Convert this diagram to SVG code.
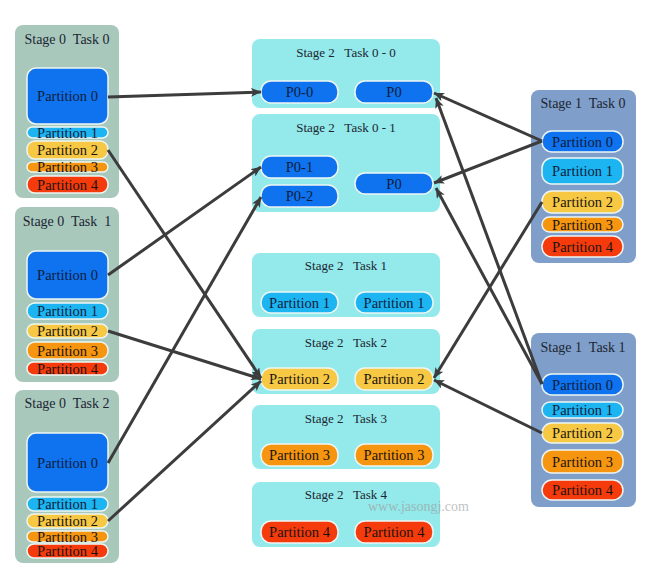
<svg xmlns="http://www.w3.org/2000/svg" width="650" height="574" viewBox="0 0 650 574" font-family="'Liberation Serif', 'Times New Roman', serif">
<defs>
<style>
.s0{fill:#a9c8bc}
.s1{fill:#7f9ec9}
.s2{fill:#94e9ea}
.p{stroke:#eef6f4;stroke-width:1.5}
.c0{fill:#0f72ee}
.c1{fill:#1cb5f2}
.c2{fill:#f6c843}
.c3{fill:#f6950f}
.c4{fill:#f53b0c}
text{font-family:"Liberation Serif","Times New Roman",serif;text-anchor:middle}
.t{font-size:14px;fill:#1b2632}
.t2{font-size:13px;fill:#1b2632}
.l{font-size:14.5px;fill:#0e1d3c}
.lk{font-size:14.5px;fill:#1a1410}
.wm{font-size:14px;fill:#9a9a9a;opacity:0.6;text-anchor:start}
.e{stroke:#3c3c3c;stroke-width:3;fill:none;marker-end:url(#ah)}
</style>
<marker id="ah" markerUnits="userSpaceOnUse" markerWidth="11" markerHeight="9" refX="10" refY="4.5" orient="auto">
<path d="M0,0 L10,4.5 L0,9 L2.5,4.5 z" fill="#3c3c3c"/>
</marker>
</defs>

<g id="s0t0">
<rect class="s0" x="15" y="25" width="104" height="173" rx="8"/>
<text class="t" x="67" y="44" xml:space="preserve">Stage 0  Task 0</text>
<rect class="p c0" x="27" y="68" width="81" height="56" rx="9"/>
<text class="l" x="67.5" y="101">Partition 0</text>
<rect class="p c1" x="27" y="127" width="81" height="11" rx="5.5"/>
<text class="l" x="67.5" y="137.5">Partition 1</text>
<rect class="p c2" x="27" y="141" width="81" height="18" rx="8"/>
<text class="lk" x="67.5" y="155">Partition 2</text>
<rect class="p c3" x="27" y="162" width="81" height="10" rx="5"/>
<text class="lk" x="67.5" y="172">Partition 3</text>
<rect class="p c4" x="27" y="176" width="81" height="17" rx="8"/>
<text class="lk" x="67.5" y="189.5">Partition 4</text>
</g>

<g id="s0t1">
<rect class="s0" x="15" y="207" width="104" height="175" rx="8"/>
<text class="t" x="67" y="226" xml:space="preserve">Stage 0  Task  1</text>
<rect class="p c0" x="27" y="251" width="81" height="48" rx="9"/>
<text class="l" x="67.5" y="280">Partition 0</text>
<rect class="p c1" x="27" y="303" width="81" height="16" rx="8"/>
<text class="l" x="67.5" y="316">Partition 1</text>
<rect class="p c2" x="27" y="324" width="81" height="14" rx="7"/>
<text class="lk" x="67.5" y="336">Partition 2</text>
<rect class="p c3" x="27" y="342" width="81" height="17" rx="8"/>
<text class="lk" x="67.5" y="355.5">Partition 3</text>
<rect class="p c4" x="27" y="362" width="81" height="13" rx="6.5"/>
<text class="lk" x="67.5" y="373.5">Partition 4</text>
</g>

<g id="s0t2">
<rect class="s0" x="15" y="390" width="104" height="173" rx="8"/>
<text class="t" x="67" y="408" xml:space="preserve">Stage 0  Task 2</text>
<rect class="p c0" x="27" y="433" width="81" height="59" rx="9"/>
<text class="l" x="67.5" y="467.5">Partition 0</text>
<rect class="p c1" x="27" y="497" width="81" height="14" rx="7"/>
<text class="l" x="67.5" y="509">Partition 1</text>
<rect class="p c2" x="27" y="514" width="81" height="14" rx="7"/>
<text class="lk" x="67.5" y="526">Partition 2</text>
<rect class="p c3" x="27" y="531" width="81" height="11" rx="5.5"/>
<text class="lk" x="67.5" y="541.5">Partition 3</text>
<rect class="p c4" x="27" y="544" width="81" height="14" rx="7"/>
<text class="lk" x="67.5" y="556">Partition 4</text>
</g>

<g id="s2t00">
<rect class="s2" x="252" y="39" width="188" height="69" rx="8"/>
<text class="t2" x="346" y="57" xml:space="preserve">Stage 2   Task 0 - 0</text>
<rect class="p c0" x="261" y="81" width="77" height="22" rx="10"/>
<text class="l" x="299.5" y="97">P0-0</text>
<rect class="p c0" x="355" y="81" width="78" height="22" rx="10"/>
<text class="l" x="394" y="97">P0</text>
</g>

<g id="s2t01">
<rect class="s2" x="252" y="114" width="188" height="98" rx="8"/>
<text class="t2" x="346" y="132" xml:space="preserve">Stage 2   Task 0 - 1</text>
<rect class="p c0" x="261" y="156" width="77" height="22" rx="10"/>
<text class="l" x="299.5" y="172">P0-1</text>
<rect class="p c0" x="261" y="185" width="77" height="22" rx="10"/>
<text class="l" x="299.5" y="201">P0-2</text>
<rect class="p c0" x="355" y="173" width="78" height="21" rx="10"/>
<text class="l" x="394" y="188.5">P0</text>
</g>

<g id="s2t1">
<rect class="s2" x="252" y="253" width="188" height="64" rx="8"/>
<text class="t2" x="346" y="270" xml:space="preserve">Stage 2   Task 1</text>
<rect class="p c1" x="261" y="292" width="77" height="21" rx="10"/>
<text class="l" x="299.5" y="307.5">Partition 1</text>
<rect class="p c1" x="355" y="292" width="78" height="21" rx="10"/>
<text class="l" x="394" y="307.5">Partition 1</text>
</g>

<g id="s2t2">
<rect class="s2" x="252" y="329" width="188" height="65" rx="8"/>
<text class="t2" x="346" y="347" xml:space="preserve">Stage 2   Task 2</text>
<rect class="p c2" x="261" y="368" width="77" height="22" rx="10"/>
<text class="lk" x="299.5" y="384">Partition 2</text>
<rect class="p c2" x="355" y="368" width="78" height="22" rx="10"/>
<text class="lk" x="394" y="384">Partition 2</text>
</g>

<g id="s2t3">
<rect class="s2" x="252" y="405" width="188" height="64" rx="8"/>
<text class="t2" x="346" y="423" xml:space="preserve">Stage 2   Task 3</text>
<rect class="p c3" x="261" y="444" width="77" height="22" rx="10"/>
<text class="lk" x="299.5" y="460">Partition 3</text>
<rect class="p c3" x="355" y="444" width="78" height="22" rx="10"/>
<text class="lk" x="394" y="460">Partition 3</text>
</g>

<g id="s2t4">
<rect class="s2" x="252" y="482" width="188" height="65" rx="8"/>
<text class="t2" x="346" y="499" xml:space="preserve">Stage 2   Task 4</text>
<rect class="p c4" x="261" y="521" width="77" height="22" rx="10"/>
<text class="lk" x="299.5" y="537">Partition 4</text>
<rect class="p c4" x="355" y="521" width="78" height="22" rx="10"/>
<text class="lk" x="394" y="537">Partition 4</text>
</g>

<g id="s1t0">
<rect class="s1" x="531" y="90" width="105" height="173" rx="8"/>
<text class="t" x="583" y="108" xml:space="preserve">Stage 1  Task 0</text>
<rect class="p c0" x="542" y="131" width="81" height="21" rx="10"/>
<text class="l" x="582.5" y="146.5">Partition 0</text>
<rect class="p c1" x="542" y="158" width="81" height="26" rx="10"/>
<text class="l" x="582.5" y="176">Partition 1</text>
<rect class="p c2" x="542" y="191" width="81" height="22" rx="10"/>
<text class="lk" x="582.5" y="207">Partition 2</text>
<rect class="p c3" x="542" y="217" width="81" height="15" rx="7.5"/>
<text class="lk" x="582.5" y="229.5">Partition 3</text>
<rect class="p c4" x="542" y="236" width="81" height="21" rx="10"/>
<text class="lk" x="582.5" y="251.5">Partition 4</text>
</g>

<g id="s1t1">
<rect class="s1" x="531" y="333" width="105" height="174" rx="8"/>
<text class="t" x="583" y="352" xml:space="preserve">Stage 1  Task 1</text>
<rect class="p c0" x="542" y="374" width="81" height="21" rx="10"/>
<text class="l" x="582.5" y="389.5">Partition 0</text>
<rect class="p c1" x="542" y="402" width="81" height="16" rx="8"/>
<text class="l" x="582.5" y="415">Partition 1</text>
<rect class="p c2" x="542" y="423" width="81" height="20" rx="10"/>
<text class="lk" x="582.5" y="438">Partition 2</text>
<rect class="p c3" x="542" y="450" width="81" height="23" rx="10"/>
<text class="lk" x="582.5" y="466.5">Partition 3</text>
<rect class="p c4" x="542" y="480" width="81" height="20" rx="10"/>
<text class="lk" x="582.5" y="495">Partition 4</text>
</g>

<g id="connectors">
<line class="e" x1="108" y1="97" x2="261" y2="92"/>
<line class="e" x1="108" y1="150" x2="261" y2="378"/>
<line class="e" x1="108" y1="275" x2="261" y2="167"/>
<line class="e" x1="108" y1="331" x2="261" y2="379"/>
<line class="e" x1="108" y1="463" x2="261" y2="197"/>
<line class="e" x1="108" y1="521" x2="261" y2="381"/>
<line class="e" x1="542" y1="141" x2="434" y2="93"/>
<line class="e" x1="542" y1="141" x2="434" y2="183"/>
<line class="e" x1="542" y1="384" x2="436" y2="98"/>
<line class="e" x1="542" y1="384" x2="436" y2="188"/>
<line class="e" x1="542" y1="202" x2="434" y2="378"/>
<line class="e" x1="542" y1="433" x2="434" y2="380"/>
</g>

<text class="wm" x="368" y="511">www.jasongj.com</text>
</svg>
